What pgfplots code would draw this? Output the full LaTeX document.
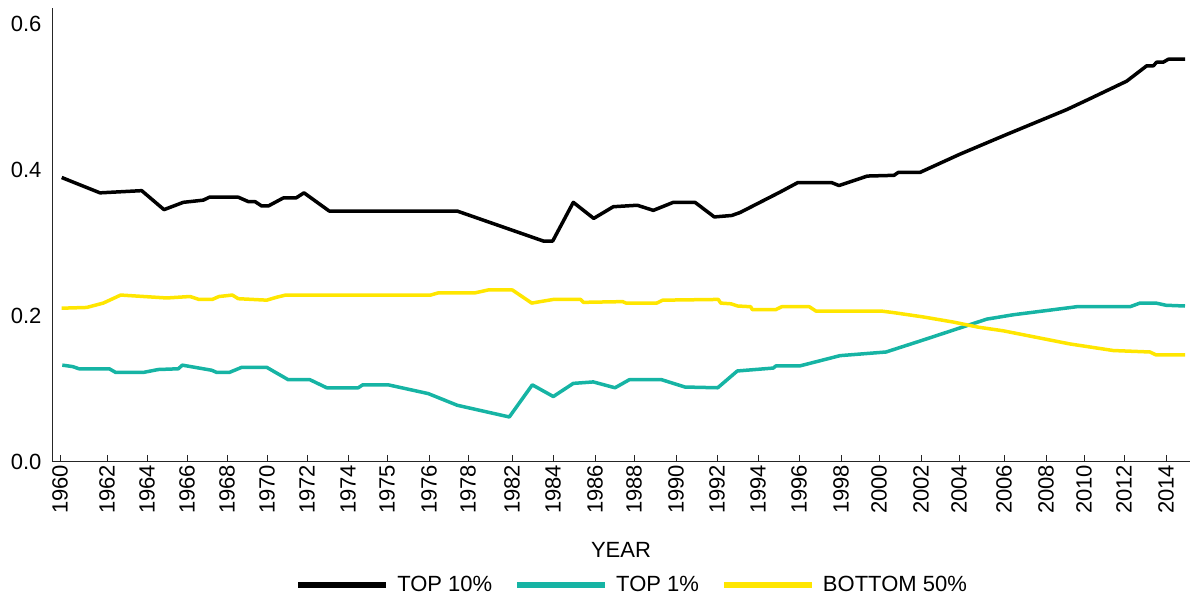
\documentclass[border=0pt]{standalone}
\usepackage{fontspec}
\setmainfont{Liberation Sans}
\usepackage{pgfplots}
\usepackage{pgfplotstable}
\pgfplotsset{compat=1.18}
\definecolor{tealc}{RGB}{22,180,164}
\definecolor{yelc}{RGB}{255,230,0}
\newcommand\bigf{\fontsize{22}{26}\selectfont}

\pgfplotstableread{
x y
61.7 0.389
100 0.368
141.7 0.371
164 0.345
183.3 0.355
203.3 0.358
209.3 0.362
238.3 0.362
248.3 0.356
255 0.356
261.7 0.350
268.3 0.350
283.3 0.361
296 0.361
304 0.368
329.3 0.343
457.3 0.343
543.3 0.302
552.7 0.302
573.3 0.355
593.7 0.333
613.3 0.349
637.3 0.351
653.3 0.344
673.3 0.355
695 0.355
714.3 0.335
731.7 0.337
740 0.341
760 0.355
780 0.369
797.7 0.382
831.7 0.382
839 0.378
850 0.383
867.3 0.391
894 0.392
898.3 0.396
920 0.396
960 0.421
1006.7 0.448
1066.7 0.482
1090 0.497
1126.7 0.521
1146.7 0.542
1153.3 0.542
1156.7 0.547
1163.3 0.547
1168.3 0.551
1185 0.551
}\topten

\pgfplotstableread{
x y
62.3 0.132
72.7 0.130
79 0.127
109.3 0.127
115.7 0.122
143.3 0.122
158.3 0.126
178.3 0.127
182.3 0.132
211.7 0.125
216.7 0.122
229.3 0.122
241.7 0.129
266.7 0.129
288.3 0.112
310 0.112
326.7 0.101
358.3 0.101
362.7 0.105
388.3 0.105
428.3 0.093
457.3 0.077
509.3 0.061
532.3 0.105
553.3 0.089
573.3 0.107
593.3 0.109
615 0.101
629.3 0.112
661.7 0.112
685 0.102
717.7 0.101
737.3 0.124
773.3 0.128
776 0.131
800 0.131
840 0.145
886 0.150
920 0.165
986.7 0.195
1013.3 0.201
1076.7 0.212
1130 0.212
1140 0.217
1156 0.217
1166 0.214
1185 0.213
}\topone

\pgfplotstableread{
x y
61.7 0.210
86.7 0.211
103.3 0.217
120.7 0.228
166.7 0.224
190 0.226
199 0.222
212.3 0.222
219 0.226
232.3 0.228
238.3 0.223
266.7 0.221
276.7 0.225
285.7 0.228
430.7 0.228
438.3 0.231
475 0.231
488.3 0.235
512.3 0.235
531.7 0.217
553.3 0.222
580.7 0.222
583.3 0.218
622.7 0.219
626 0.217
656.7 0.217
662.7 0.221
718.3 0.222
720.7 0.217
731 0.216
737.7 0.213
750.7 0.212
752.3 0.208
775.7 0.208
781.7 0.212
809.3 0.212
816 0.206
881.7 0.206
893.3 0.204
923.3 0.198
953.3 0.191
978.3 0.184
1003.3 0.179
1070 0.161
1113.3 0.152
1150 0.150
1156 0.146
1185 0.146
}\bottomfifty

\begin{document}
\begin{tikzpicture}
\path (0pt,0pt) rectangle (1194pt,603pt);
\begin{axis}[
  at={(52pt,141.5pt)}, anchor=south west,
  scale only axis, width=1138pt, height=453.5pt,
  xmin=52, xmax=1190, ymin=0, ymax=0.6212,
  axis x line*=bottom, axis y line*=left,
  axis line style={black!85, line width=1pt},
  xtick={60,107,147,187,227,267,307,348,387,429,468,512,553,595,634,676,717,758,799,841,879,921,959,1004,1046,1084,1124,1166},
  xticklabels={1960,1962,1964,1966,1968,1970,1972,1974,1975,1976,1978,1982,1984,1986,1988,1990,1992,1994,1996,1998,2000,2002,2004,2006,2008,2010,2012,2014},
  xticklabel style={rotate=90, anchor=east, font=\bigf},
  tick align=inside, major tick length=7pt,
  x tick style={black!85, line width=0.8pt},
  ytick={0,0.2,0.4,0.6},
  y tick style={draw=none},
  yticklabel style={font=\bigf, xshift=-7pt, /pgf/number format/.cd, fixed, fixed zerofill, precision=1, assume math mode=true},
  xlabel={YEAR},
  xlabel style={at={(axis description cs:0.5,0)}, anchor=center, yshift=-88.5pt, font=\bigf},
  legend columns=3,
  legend style={draw=none, fill=none, font=\bigf, at={(axis description cs:0.5097,-0.272)}, anchor=center,
    /tikz/every odd column/.append style={column sep=6pt},
    /tikz/every even column/.append style={column sep=20pt}},
  legend image code/.code={\draw[#1, line width=6pt] (0pt,0pt) -- (88pt,0pt);},
  every axis plot/.append style={line width=3.5pt, line join=round, line cap=butt},
  clip=false,
]
\addplot[black, mark=none] table[x=x, y=y] {\topten};
\addlegendentry{TOP 10\%}
\addplot[tealc, mark=none] table[x=x, y=y] {\topone};
\addlegendentry{TOP 1\%}
\addplot[yelc, mark=none] table[x=x, y=y] {\bottomfifty};
\addlegendentry{BOTTOM 50\%}
\end{axis}
\end{tikzpicture}
\end{document}
